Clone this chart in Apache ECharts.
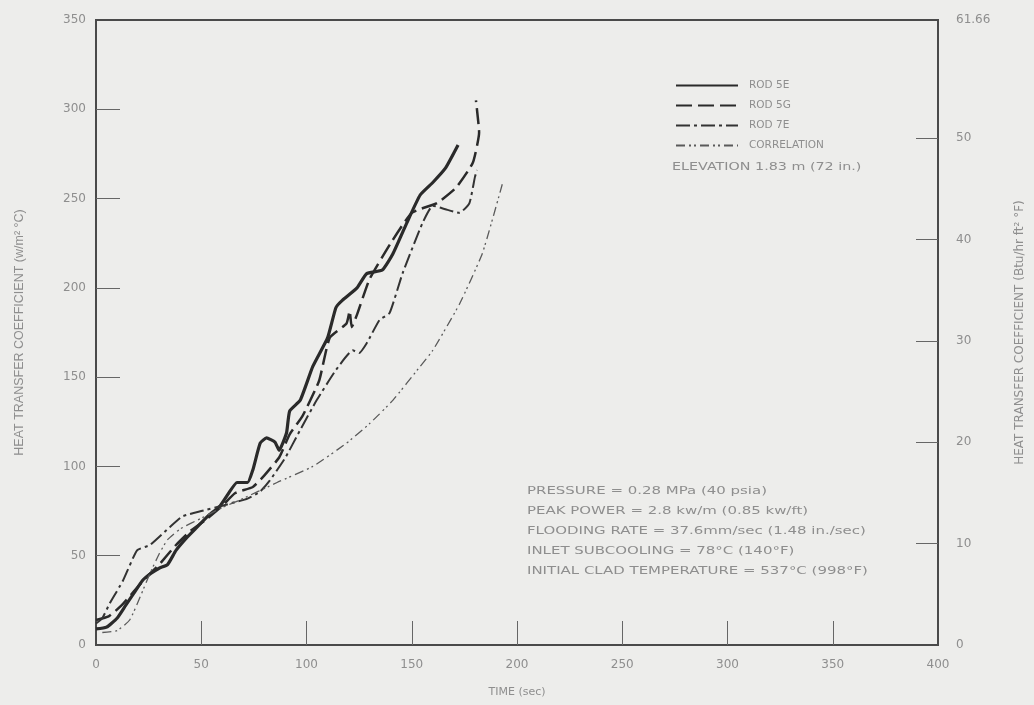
<!DOCTYPE html>
<html>
<head>
<meta charset="utf-8">
<title>Heat transfer coefficient vs time</title>
<script src="https://cdn.jsdelivr.net/npm/echarts@6/dist/echarts.min.js"></script>
<style>
  html, body { margin: 0; padding: 0; background: #ededeb; }
  #chart { width: 1034px; height: 705px; }
</style>
</head>
<body>
<div id="chart"></div>
<script>
// Time (sec), heat transfer coefficient (W/m2 C) pairs for each rod
const rod5E = [
  [0, 9], [5, 10], [10, 15], [14, 22], [18, 29], [22, 36], [26, 40], [30, 43],
  [34, 45], [38, 53], [43, 60], [48, 66], [53, 72], [59, 78], [63, 85], [67, 91],
  [72, 91], [74.5, 98], [78, 113], [81, 116], [85, 113.6], [87, 109], [90.5, 118.7],
  [92, 131], [97, 137], [103, 156], [110, 172], [114, 189], [117, 193], [124, 200],
  [128.6, 208], [136, 210], [141, 219], [147.5, 236], [154, 252], [160, 259],
  [166, 267], [172, 280]
];
const rod5G = [
  [0, 14], [6, 16], [12, 22], [18, 30], [24, 38], [30, 45], [38, 56], [45, 64],
  [52, 70], [60, 78], [66, 85], [74.5, 88.5], [80, 95], [87, 105], [92, 118],
  [98, 128], [106, 148], [111, 172], [119, 180], [120.5, 187], [121.5, 178],
  [124, 185], [130, 205], [140, 225], [150, 242], [162, 247.5], [171, 256],
  [179, 270], [182, 287], [180.5, 305]
];
const rod7E = [
  [0, 12], [3, 15], [6.6, 23.5], [12.8, 36], [19.5, 53], [25.6, 56], [35, 66],
  [41, 72], [50, 75], [60, 78], [66, 80], [72, 82], [78, 86], [82.5, 92],
  [90, 105], [96.8, 120], [104.8, 137], [114, 154], [122, 165], [125, 163.5],
  [128.6, 169], [134.7, 182], [139.5, 186], [145.6, 208], [155, 236], [160, 246],
  [166, 244], [172.7, 242], [177.4, 247.5], [180, 262], [181, 266]
];
const correlation = [
  [3, 7], [10, 8], [16, 14], [21, 27], [25.6, 40], [30, 51], [34, 59], [40, 65],
  [50, 71], [60, 77], [68, 81], [86, 91], [103, 100], [119, 113], [130, 124],
  [141, 137], [154, 156], [160, 165], [172.7, 191], [183.6, 219.5], [193, 258]
];

const timeTicks = [0, 50, 100, 150, 200, 250, 300, 350, 400];
const siTicks = [0, 50, 100, 150, 200, 250, 300, 350];
const btuTicks = [0, 10, 20, 30, 40, 50, 61.66];

const conditions = [
  'PRESSURE = 0.28 MPa (40 psia)',
  'PEAK POWER = 2.8 kw/m (0.85 kw/ft)',
  'FLOODING RATE = 37.6mm/sec (1.48 in./sec)',
  'INLET SUBCOOLING = 78\u00B0C (140\u00B0F)',
  'INITIAL CLAD TEMPERATURE = 537\u00B0C (998\u00B0F)'
];
const elevation = 'ELEVATION 1.83 m (72 in.)';

const FONT = 'DejaVu Sans, Liberation Sans, sans-serif';
const NAME_FONT = 'Liberation Sans, Arial, sans-serif';
const INK = '#2a2a2a';
const LABEL = '#8e8e8e';

const chart = echarts.init(document.getElementById('chart'), null, { renderer: 'canvas' });

const lineSeries = (name, data, width, type, color) => ({
  name, type: 'line', data, yAxisIndex: 0,
  symbol: 'none', smooth: 0.15, animation: false,
  lineStyle: { width, type, color, cap: 'butt', join: 'round' },
  itemStyle: { color },
  z: 3
});

chart.setOption({
  backgroundColor: '#ededeb',
  animation: false,
  textStyle: { fontFamily: FONT },
  grid: {
    left: 96, right: 95, top: 20, bottom: 60,
    show: true, borderColor: '#4a4a4a', borderWidth: 2,
    backgroundColor: 'transparent'
  },
  legend: {
    orient: 'vertical', left: 670, top: 75,
    itemWidth: 62, itemHeight: 12, itemGap: 9,
    itemStyle: { opacity: 0 },
    textStyle: { fontFamily: FONT, fontSize: 10.5, color: LABEL, padding: [0, 0, 0, 6] },
    data: ['ROD 5E', 'ROD 5G', 'ROD 7E', 'CORRELATION']
  },
  xAxis: {
    type: 'value', min: 0, max: 400, interval: 50,
    name: 'TIME (sec)', nameLocation: 'middle', nameGap: 42,
    nameTextStyle: { fontFamily: FONT, fontSize: 11, color: LABEL },
    axisLine: { show: true, lineStyle: { color: '#4a4a4a', width: 2 } },
    axisTick: { show: true, inside: true, length: 24, lineStyle: { color: '#666', width: 1 },
                customValues: [50, 100, 150, 200, 250, 300, 350] },
    axisLabel: { fontFamily: FONT, fontSize: 12, color: LABEL, margin: 14,
                 customValues: timeTicks },
    splitLine: { show: false }
  },
  yAxis: [
    {
      type: 'value', min: 0, max: 350, interval: 50, position: 'left',
      name: 'HEAT TRANSFER COEFFICIENT (w/m\u00B2 \u00B0C)',
      nameLocation: 'middle', nameGap: 70, nameRotate: 90,
      nameTextStyle: { fontFamily: NAME_FONT, fontSize: 12.5, color: LABEL },
      axisLine: { show: true, lineStyle: { color: '#4a4a4a', width: 2 } },
      axisTick: { show: true, inside: true, length: 24, lineStyle: { color: '#666', width: 1 },
                  customValues: [50, 100, 150, 200, 250, 300] },
      axisLabel: { fontFamily: FONT, fontSize: 12, color: LABEL, margin: 10,
                   customValues: siTicks },
      splitLine: { show: false }
    },
    {
      type: 'value', min: 0, max: 61.66, position: 'right',
      name: 'HEAT TRANSFER COEFFICIENT (Btu/hr ft\u00B2 \u00B0F)',
      nameLocation: 'middle', nameGap: 76, nameRotate: 90,
      nameTextStyle: { fontFamily: FONT, fontSize: 12, color: LABEL },
      axisLine: { show: true, lineStyle: { color: '#4a4a4a', width: 2 } },
      axisTick: { show: true, inside: true, length: 22, lineStyle: { color: '#666', width: 1 },
                  customValues: [10, 20, 30, 40, 50] },
      axisLabel: { fontFamily: FONT, fontSize: 12, color: LABEL, margin: 18,
                   customValues: btuTicks,
                   formatter: v => (Math.abs(v - 61.66) < 1e-6 ? '61.66' : String(v)) },
      splitLine: { show: false }
    }
  ],
  graphic: [
    {
      type: 'text', x: 672, y: 162, scaleX: 1.3,
      style: { text: elevation, font: '11px ' + FONT, fill: LABEL }
    },
    {
      type: 'text', x: 527, y: 481, scaleX: 1.36,
      style: { text: conditions.join('\n'), font: '11px ' + FONT, fill: LABEL, lineHeight: 20 }
    }
  ],
  series: [
    lineSeries('ROD 5E', rod5E, 3.2, 'solid', INK),
    lineSeries('ROD 5G', rod5G, 2.5, [16, 6], INK),
    lineSeries('ROD 7E', rod7E, 2, [14, 4, 3, 4], '#333333'),
    lineSeries('CORRELATION', correlation, 1.3, [9, 4, 2, 3, 2, 4], '#5a5a5a')
  ]
});
</script>
</body>
</html>
